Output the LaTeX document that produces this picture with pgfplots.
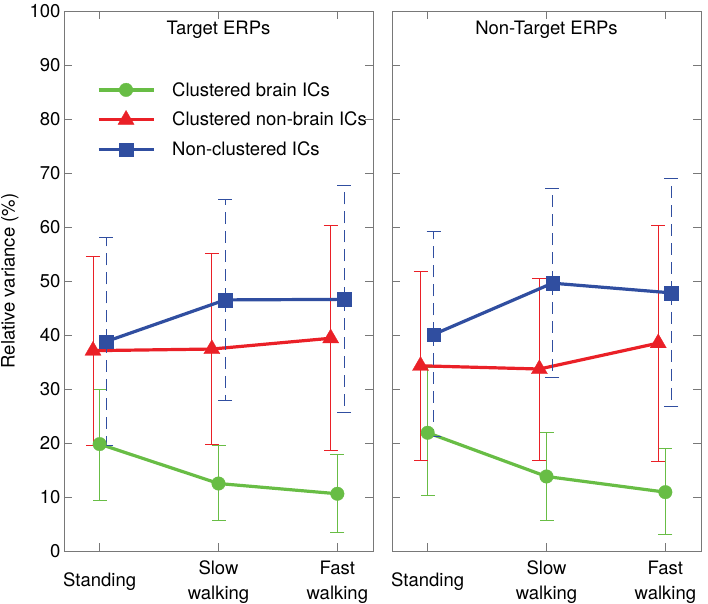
\documentclass[border=0pt]{standalone}
\usepackage{fontspec}
\setmainfont{TeX Gyre Heros}
\usepackage{pgfplots}
\usepackage{pgfplotstable}
\pgfplotsset{compat=1.18}
\definecolor{cgreen}{RGB}{104,189,69}
\definecolor{cred}{RGB}{234,32,39}
\definecolor{cblue}{RGB}{48,78,160}
\definecolor{cframe}{RGB}{120,120,120}

% columns: x, green mean/top/bottom, red mean/top/bottom, blue mean/top/bottom
\pgfplotstableread{
x gy gt gb ry rt rb by bt bb
1 19.8 30.0 9.4 37.1 54.6 19.6 38.8 58.1 19.5
2 12.5 19.5 5.7 37.4 55.1 19.8 46.5 65.1 27.9
3 10.6 17.8 3.4 39.4 60.3 18.6 46.6 67.7 25.7
}\targettab
\pgfplotstableread{
x gy gt gb ry rt rb by bt bb
1 21.9 34.0 10.3 34.3 51.8 16.7 40.1 59.1 21.3
2 13.8 22.0 5.6 33.7 50.5 16.8 49.6 67.1 32.1
3 10.9 18.9 3.0 38.5 60.3 16.5 47.8 69.0 26.8
}\nontargettab

\pgfplotsset{
  myaxis/.style={
    scale only axis, width=309pt, height=540pt,
    xmin=0.7, xmax=3.3, ymin=0, ymax=100,
    xtick={1,2,3},
    xticklabels={Standing,{Slow\\walking},{Fast\\walking}},
    ytick={0,10,...,100},
    tick align=inside, xtick pos=both, ytick pos=both,
    major tick length=8pt,
    axis line style={cframe, line width=0.8pt},
    every tick/.style={cframe, line width=0.8pt},
    font=\fontsize{18.5}{25}\selectfont,
    tick label style={font=\fontsize{18.5}{25}\selectfont},
    /pgf/number format/assume math mode=true,
    xticklabel style={align=center, anchor=center, yshift=-31pt},
    title style={at={(axis description cs:0.5,1)}, anchor=north, yshift=-12pt},
    legend image code/.code={\draw[mark repeat=2,mark phase=2,##1] plot coordinates {(0pt,0pt)(27.5pt,0pt)(55pt,0pt)};},
  },
  gser/.style={cgreen, line width=3.2pt, mark=*, mark size=6.8pt, mark options={solid, line width=0.3pt},
    error bars/.cd, y dir=both, y explicit,
    error bar style={line width=0.9pt},
    error mark options={rotate=90, mark size=7pt, line width=0.9pt, solid}},
  rser/.style={cred, line width=3.2pt, mark=triangle*, mark size=9.3pt, mark options={solid, line width=0.3pt},
    error bars/.cd, y dir=both, y explicit,
    error bar style={line width=0.9pt},
    error mark options={rotate=90, mark size=7pt, line width=0.9pt, solid}},
  bser/.style={cblue, line width=3.2pt, mark=square*, mark size=6.8pt, mark options={solid, line width=0.3pt},
    error bars/.cd, y dir=both, y explicit,
    error bar style={line width=0.9pt, dash pattern=on 12pt off 7pt},
    error mark options={rotate=90, mark size=7pt, line width=0.9pt, solid}},
}

\begin{document}
\begin{tikzpicture}
\begin{axis}[myaxis,
  title={Target ERPs},
  ylabel={Relative variance (\%)},
  ylabel style={at={(axis description cs:-0.175,0.5)}, anchor=center},
  legend style={at={(axis description cs:0.106,0.874)}, anchor=north west, draw=none, fill=none, inner sep=0pt,
    row sep=8.5pt, nodes={inner sep=3pt}},
  legend cell align=left,
  /tikz/every odd column/.append style={column sep=14pt},
]
\addplot[gser] table[x expr=\thisrow{x}, y=gy, y error plus expr=\thisrow{gt}-\thisrow{gy}, y error minus expr=\thisrow{gy}-\thisrow{gb}] {\targettab};
\addlegendentry{Clustered brain ICs}
\addplot[rser] table[x expr=\thisrow{x}-0.056, y=ry, y error plus expr=\thisrow{rt}-\thisrow{ry}, y error minus expr=\thisrow{ry}-\thisrow{rb}] {\targettab};
\addlegendentry{Clustered non-brain ICs}
\addplot[bser] table[x expr=\thisrow{x}+0.056, y=by, y error plus expr=\thisrow{bt}-\thisrow{by}, y error minus expr=\thisrow{by}-\thisrow{bb}] {\targettab};
\addlegendentry{Non-clustered ICs}
\end{axis}
\begin{axis}[myaxis, at={(328pt,0pt)},
  title={Non-Target ERPs},
  yticklabels={},
]
\addplot[gser] table[x expr=\thisrow{x}, y=gy, y error plus expr=\thisrow{gt}-\thisrow{gy}, y error minus expr=\thisrow{gy}-\thisrow{gb}] {\nontargettab};
\addplot[rser] table[x expr=\thisrow{x}-0.06, y=ry, y error plus expr=\thisrow{rt}-\thisrow{ry}, y error minus expr=\thisrow{ry}-\thisrow{rb}] {\nontargettab};
\addplot[bser] table[x expr=\thisrow{x}+0.05, y=by, y error plus expr=\thisrow{bt}-\thisrow{by}, y error minus expr=\thisrow{by}-\thisrow{bb}] {\nontargettab};
\end{axis}
\pgfresetboundingbox
\path (-64pt,-52pt) rectangle (644pt,551pt);
\end{tikzpicture}
\end{document}
